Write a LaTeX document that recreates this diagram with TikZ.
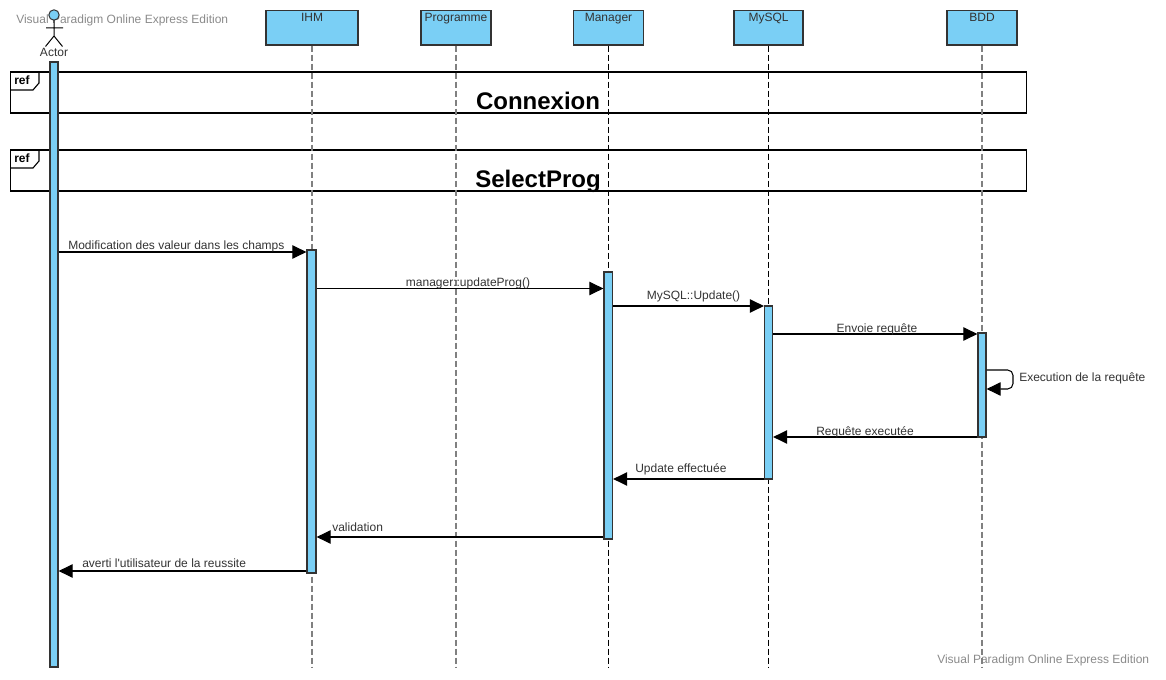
\documentclass[tikz,border=0pt]{standalone}
\usepackage{fontspec}
\setmainfont{Liberation Sans}
\usetikzlibrary{arrows.meta,fit}
\definecolor{lifeblue}{HTML}{7ACFF5}
\definecolor{edgegray}{HTML}{333333}
\definecolor{dashgray}{HTML}{808080}
\definecolor{txtgray}{HTML}{333333}
\definecolor{markgray}{HTML}{8A8A8A}

\begin{document}
\begin{tikzpicture}[x=0.75pt,y=-0.75pt,
  headbox/.style={draw=edgegray, line width=1.1pt, fill=lifeblue, inner sep=0pt},
  actbar/.style={draw=edgegray, line width=0.9pt, fill=lifeblue, inner sep=0pt},
  lifegray/.style={draw=dashgray, line width=1.4pt, dash pattern=on 4.5pt off 2.25pt},
  lifeblack/.style={draw=black, line width=0.75pt, dash pattern=on 4.5pt off 2.25pt},
  frame/.style={draw=black, line width=0.85pt, inner sep=0pt},
  msg/.style={draw=black, line width=0.8pt, -{Triangle[length=10.5pt,width=10pt]}},
  lbl/.style={font=\fontsize{9}{10}\selectfont, text=txtgray, inner sep=0pt},
  boxlbl/.style={font=\fontsize{9}{10}\selectfont, text=txtgray, inner sep=0pt, anchor=base},
  wmark/.style={font=\fontsize{9}{10}\selectfont, text=markgray, inner sep=0pt, anchor=base west},
  reftitle/.style={font=\fontsize{18}{20}\selectfont\bfseries, inner sep=0pt, anchor=base},
  reftag/.style={font=\fontsize{9}{10}\selectfont\bfseries, inner sep=0pt, anchor=base west},
  actorline/.style={draw=black, line width=0.75pt},
  ]
\useasboundingbox (0,0) rectangle (1166,680);

% helper rows
\coordinate (bottom) at (0,667);
\coordinate (m1) at (0,252);
\coordinate (m2) at (0,288.5);
\coordinate (m3) at (0,306);
\coordinate (m4) at (0,334);
\coordinate (s1) at (0,370);
\coordinate (loop) at (1013,389);
\coordinate (m6) at (0,437);
\coordinate (m7) at (0,479);
\coordinate (m8) at (0,537);
\coordinate (m9) at (0,571);

% watermarks
\node[wmark] (wmtop) at (16,24) {Visual Paradigm Online Express Edition};
\node[wmark] (wmbot) at (937,663) {Visual Paradigm Online Express Edition};

% interaction use frames
\node[frame, fit={(10.5,72)(1026.5,113)}] (ref1) {};
\draw[line width=0.85pt] (10.5,90) -- (33,90) -- (39,83) -- (39,72);
\node[reftag] (tag1) at (14,85) {ref};
\node[reftitle] (t1) at (538,109.5) {Connexion};

\node[frame, fit={(10.5,150)(1026.5,191)}] (ref2) {};
\draw[line width=0.85pt] (10.5,168) -- (33,168) -- (39,161) -- (39,150);
\node[reftag] (tag2) at (14,163) {ref};
\node[reftitle] (t2) at (538,187.5) {SelectProg};

% lifeline heads
\node[headbox, fit={(266,10.5)(358,45)}] (ihm) {};
\node[headbox, fit={(421,10.5)(491,45)}] (prog) {};
\node[headbox, fit={(573.5,10.5)(643.5,45)}] (mgr) {};
\node[headbox, fit={(734,10.5)(803,45)}] (sql) {};
\node[headbox, fit={(947,10.5)(1017,45)}] (bdd) {};
\node[boxlbl] at (ihm.north |- 0,22) {IHM};
\node[boxlbl] at (prog.north |- 0,22) {Programme};
\node[boxlbl] at (mgr.north |- 0,22) {Manager};
\node[boxlbl] at (sql.north |- 0,22) {MySQL};
\node[boxlbl] at (bdd.north |- 0,22) {BDD};

% dashed lifelines
\draw[lifegray] (ihm.south) -- (ihm.south |- bottom);
\draw[lifegray] (prog.south) -- (prog.south |- bottom);
\draw[lifeblack] (mgr.south) -- (mgr.south |- bottom);
\draw[lifeblack] (sql.south) -- (sql.south |- bottom);
\draw[lifegray] (bdd.south) -- (bdd.south |- bottom);

% actor
\draw[actorline] (54,20) -- (54,36) (46,28) -- (63,28) (54,36) -- (45.5,46.5) (54,36) -- (62.5,46.5);
\node[circle, draw=edgegray, line width=0.75pt, fill=lifeblue, inner sep=0pt, minimum size=7.8pt] (head) at (54,15) {};
\node[boxlbl] (actor) at (54,57) {Actor};

% activation bars
\node[actbar, fit={(50,62)(58,667)}] (actA) {};
\node[actbar, fit={(307,250)(316,573)}] (ihmA) {};
\node[actbar, fit={(604,272)(612.5,539)}] (mgrA) {};
\node[actbar, fit={(764.5,306)(772.5,479)}] (sqlA) {};
\node[actbar, fit={(978,333)(986,437)}] (bddA) {};

% messages
\draw[msg] (actA.east |- m1) -- (ihmA.west |- m1);
\node[lbl, anchor=base west] at (68,250) {Modification des valeur dans les champs};

\draw[msg] (ihmA.east |- m2) -- (mgrA.west |- m2);
\node[lbl, anchor=base] at (468,286.5) {manager::updateProg()};

\draw[msg] (mgrA.east |- m3) -- (sqlA.west |- m3);
\node[lbl, anchor=base] at (693.5,299.5) {MySQL::Update()};

\draw[msg] (sqlA.east |- m4) -- (bddA.west |- m4);
\node[lbl, anchor=base] at (877,332.5) {Envoie requête};

\draw[msg, rounded corners=4pt] (bddA.east |- s1) -| (loop) -- (bddA.east |- loop);
\node[lbl, anchor=base west] at (1019,382) {Execution de la requête};

\draw[msg] (bddA.west |- m6) -- (sqlA.east |- m6);
\node[lbl, anchor=base] at (865,435.5) {Requête executée};

\draw[msg] (sqlA.west |- m7) -- (mgrA.east |- m7);
\node[lbl, anchor=base west] at (635,472) {Update effectuée};

\draw[msg] (mgrA.west |- m8) -- (ihmA.east |- m8);
\node[lbl, anchor=base west] at (332,531.5) {validation};

\draw[msg] (ihmA.west |- m9) -- (actA.east |- m9);
\node[lbl, anchor=base west] at (82,567.5) {averti l\textquotesingle utilisateur de la reussite};
\end{tikzpicture}
\end{document}
